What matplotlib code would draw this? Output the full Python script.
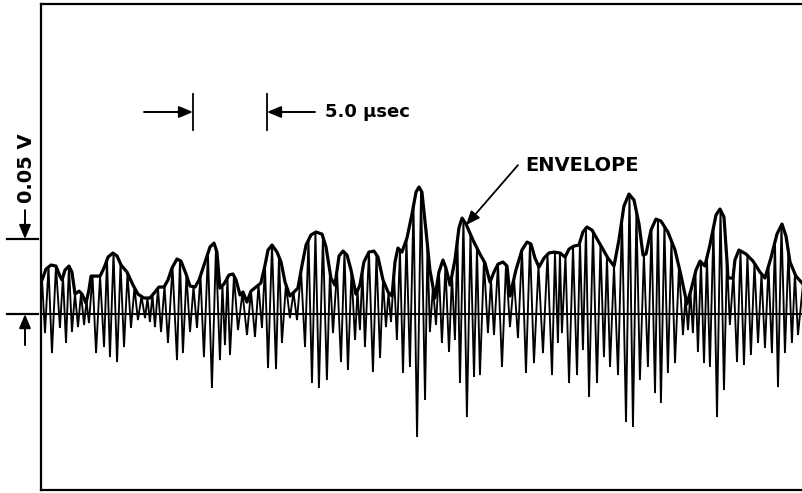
#!/usr/bin/env python3
"""Narrowband noise trace with its envelope, redrawn from a scanned figure."""

import matplotlib

matplotlib.use("Agg")
import matplotlib.pyplot as plt
import matplotlib.transforms as mtransforms
import numpy as np

# envelope of the positive half-cycles: time (usec) and voltage (V)
ENV_T = [
    0.07, 0.34, 0.68, 1.01, 1.28, 1.42, 1.62, 1.89, 2.09, 2.30,
    2.57, 2.77, 3.04, 3.24, 3.38, 3.72, 3.99, 4.26, 4.53, 4.86,
    5.14, 5.41, 5.81, 6.22, 6.55, 6.96, 7.36, 7.70, 7.97, 8.31,
    8.58, 8.85, 9.19, 9.46, 9.80, 10.07, 10.41, 10.68, 11.08, 11.42,
    11.69, 11.89, 12.09, 12.36, 12.70, 12.97, 13.18, 13.45, 13.65, 13.92,
    14.19, 14.53, 14.86, 15.14, 15.34, 15.61, 15.95, 16.22, 16.49, 16.82,
    17.09, 17.36, 17.64, 17.91, 18.24, 18.58, 18.99, 19.26, 19.59, 19.86,
    20.14, 20.41, 20.68, 20.95, 21.28, 21.55, 21.82, 22.16, 22.50, 22.77,
    23.11, 23.45, 23.72, 23.92, 24.12, 24.39, 24.73, 25.07, 25.34, 25.54,
    25.74, 26.01, 26.28, 26.62, 26.89, 27.16, 27.36, 27.64, 27.97, 28.24,
    28.45, 28.72, 29.19, 29.66, 30.00, 30.34, 30.61, 30.88, 31.22, 31.49,
    31.69, 32.09, 32.50, 32.84, 33.11, 33.38, 33.65, 33.99, 34.32, 34.66,
    35.07, 35.41, 35.68, 36.01, 36.35, 36.62, 36.89, 37.23, 37.77, 38.31,
    38.72, 39.05, 39.39, 39.73, 40.07, 40.41, 40.68, 40.88, 41.22, 41.55,
    41.89, 42.36, 42.84, 43.24, 43.65, 43.92, 44.26, 44.53, 44.86, 45.20,
    45.61, 45.88, 46.15, 46.35, 46.42, 46.76, 46.89, 47.16, 47.64, 48.11,
    48.58, 48.92, 49.32, 49.73, 50.07, 50.34, 50.61, 51.01, 51.49,
]
ENV_V = [
    0.0227, 0.0300, 0.0327, 0.0320, 0.0253, 0.0227, 0.0293, 0.0320, 0.0280, 0.0133,
    0.0153, 0.0133, 0.0073, 0.0160, 0.0253, 0.0253, 0.0253, 0.0307, 0.0380, 0.0407,
    0.0387, 0.0327, 0.0280, 0.0193, 0.0133, 0.0107, 0.0107, 0.0147, 0.0180, 0.0180,
    0.0227, 0.0307, 0.0367, 0.0353, 0.0267, 0.0187, 0.0180, 0.0227, 0.0347, 0.0447,
    0.0473, 0.0413, 0.0173, 0.0200, 0.0260, 0.0267, 0.0227, 0.0127, 0.0147, 0.0080,
    0.0153, 0.0180, 0.0207, 0.0327, 0.0427, 0.0460, 0.0413, 0.0347, 0.0213, 0.0120,
    0.0147, 0.0173, 0.0327, 0.0460, 0.0527, 0.0547, 0.0533, 0.0447, 0.0240, 0.0193,
    0.0387, 0.0420, 0.0393, 0.0293, 0.0133, 0.0193, 0.0347, 0.0413, 0.0420, 0.0380,
    0.0227, 0.0147, 0.0120, 0.0347, 0.0440, 0.0413, 0.0507, 0.0667, 0.0813, 0.0847,
    0.0813, 0.0560, 0.0293, 0.0107, 0.0280, 0.0360, 0.0307, 0.0193, 0.0360, 0.0573,
    0.0640, 0.0600, 0.0493, 0.0400, 0.0340, 0.0213, 0.0280, 0.0333, 0.0347, 0.0320,
    0.0120, 0.0293, 0.0427, 0.0480, 0.0467, 0.0373, 0.0313, 0.0373, 0.0407, 0.0413,
    0.0407, 0.0380, 0.0433, 0.0453, 0.0460, 0.0547, 0.0580, 0.0560, 0.0467, 0.0373,
    0.0320, 0.0493, 0.0720, 0.0800, 0.0760, 0.0600, 0.0393, 0.0400, 0.0560, 0.0633,
    0.0620, 0.0547, 0.0427, 0.0260, 0.0067, 0.0160, 0.0293, 0.0353, 0.0320, 0.0460,
    0.0660, 0.0700, 0.0647, 0.0360, 0.0240, 0.0240, 0.0360, 0.0427, 0.0400, 0.0353,
    0.0280, 0.0240, 0.0373, 0.0533, 0.0600, 0.0520, 0.0347, 0.0253, 0.0200,
]

# tips of the negative half-cycles: time (usec) and voltage (V)
TIP_T = [
    0.27, 0.74, 1.28, 1.69, 2.09, 2.50, 2.91, 3.24, 3.72, 4.26,
    4.66, 5.14, 5.61, 6.08, 6.55, 7.03, 7.36, 7.70, 8.11, 8.58,
    9.19, 9.59, 10.07, 10.54, 11.01, 11.55, 12.09, 12.43, 12.77, 13.31,
    13.92, 14.46, 14.93, 15.34, 15.88, 16.28, 16.82, 17.30, 17.84, 18.31,
    18.78, 19.32, 19.73, 20.27, 20.74, 21.22, 21.55, 21.89, 22.43, 22.91,
    23.31, 23.65, 24.05, 24.46, 24.93, 25.41, 25.95, 26.28, 26.69, 27.09,
    27.57, 27.97, 28.31, 28.78, 29.26, 29.66, 30.20, 30.61, 31.15, 31.69,
    32.23, 32.77, 33.31, 33.92, 34.53, 34.93, 35.20, 35.68, 36.22, 36.62,
    37.03, 37.57, 38.04, 38.45, 38.99, 39.53, 40.00, 40.47, 41.01, 41.49,
    41.89, 42.36, 42.84, 43.38, 43.72, 44.05, 44.39, 44.80, 45.20, 45.68,
    46.15, 46.55, 47.03, 47.50, 47.97, 48.45, 48.92, 49.39, 49.80, 50.27,
    50.74, 51.15,
]
TIP_V = [
    -0.0127, -0.0260, -0.0093, -0.0193, -0.0120, -0.0087, -0.0073, -0.0060, -0.0260, -0.0220,
    -0.0287, -0.0320, -0.0220, -0.0093, -0.0040, -0.0027, -0.0053, -0.0087, -0.0120, -0.0193,
    -0.0307, -0.0260, -0.0120, -0.0093, -0.0287, -0.0493, -0.0307, -0.0207, -0.0273, -0.0107,
    -0.0140, -0.0153, -0.0093, -0.0360, -0.0367, -0.0193, -0.0027, -0.0040, -0.0220, -0.0460,
    -0.0493, -0.0440, -0.0127, -0.0320, -0.0373, -0.0173, -0.0107, -0.0220, -0.0387, -0.0293,
    -0.0087, -0.0053, -0.0173, -0.0393, -0.0353, -0.0820, -0.0573, -0.0120, -0.0073, -0.0193,
    -0.0253, -0.0173, -0.0460, -0.0687, -0.0420, -0.0407, -0.0127, -0.0140, -0.0353, -0.0087,
    -0.0160, -0.0393, -0.0327, -0.0260, -0.0407, -0.0193, -0.0127, -0.0460, -0.0407, -0.0240,
    -0.0553, -0.0460, -0.0287, -0.0353, -0.0407, -0.0720, -0.0753, -0.0440, -0.0353, -0.0527,
    -0.0593, -0.0393, -0.0327, -0.0140, -0.0107, -0.0127, -0.0253, -0.0327, -0.0353, -0.0687,
    -0.0507, -0.0073, -0.0320, -0.0340, -0.0273, -0.0193, -0.0227, -0.0260, -0.0487, -0.0260,
    -0.0193, -0.0140,
]

SCALE_T = 5.0  # usec, horizontal calibration bar
SCALE_V = 0.05  # V, vertical calibration bar

FONT = "DejaVu Sans"
ARROW = "-|>,head_length=0.6,head_width=0.25"


def build_trace():
    """Alternate negative tips with positive crests that touch the envelope."""
    tip_t = np.asarray(TIP_T)
    tip_v = np.asarray(TIP_V)
    crest_t = (tip_t[:-1] + tip_t[1:]) / 2
    crest_v = np.interp(crest_t, ENV_T, ENV_V)
    t = np.empty(len(tip_t) + len(crest_t))
    v = np.empty_like(t)
    t[0::2], v[0::2] = tip_t, tip_v
    t[1::2], v[1::2] = crest_t, crest_v
    t = np.concatenate([[ENV_T[0]], t, [ENV_T[-1]]])
    v = np.concatenate([[ENV_V[0]], v, [ENV_V[-1]]])
    return t, v


def main():
    fig = plt.figure(figsize=(8.03, 4.93), dpi=100)
    ax = fig.add_axes([41 / 803, 3 / 493, 762 / 803, 486 / 493])
    ax.set_xlim(0, 51.49)
    ax.set_ylim(-0.1173, 0.2067)
    ax.set_xticks([])
    ax.set_yticks([])
    ax.spines["right"].set_visible(False)
    for side in ("left", "top", "bottom"):
        ax.spines[side].set_linewidth(1.6)

    wave_t, wave_v = build_trace()
    ax.plot(wave_t, wave_v, color="black", lw=1.35, solid_joinstyle="miter")
    ax.plot(ENV_T, ENV_V, color="black", lw=2.3, solid_capstyle="round")
    ax.axhline(0, color="black", lw=1.5)

    text_style = dict(family=FONT, fontweight="bold")

    # 5.0 usec calibration
    t0 = 10.27
    t1 = t0 + SCALE_T
    y_arrow = 0.1347
    for t in (t0, t1):
        ax.plot([t, t], [0.1227, 0.1467], color="black", lw=1.3)
    arrow = dict(arrowstyle=ARROW, color="black", lw=1.4,
                 mutation_scale=14, shrinkA=0, shrinkB=0)
    ax.annotate("", xy=(t0, y_arrow), xytext=(6.96, y_arrow), arrowprops=arrow)
    ax.annotate("", xy=(t1, y_arrow), xytext=(18.51, y_arrow), arrowprops=arrow)
    ax.text(19.19, y_arrow, "5.0 \u00b5sec", ha="left", va="center",
            fontsize=13, **text_style)

    # 0.05 V calibration, drawn in the left margin
    trans = mtransforms.blended_transform_factory(fig.transFigure, ax.transData)
    for v in (0.0, SCALE_V):
        ax.plot([7 / 803, 38 / 803], [v, v], color="black", lw=1.6,
                transform=trans, clip_on=False)
    x_bar = 25 / 803
    ax.annotate("", xy=(x_bar, SCALE_V), xytext=(x_bar, 0.0693),
                xycoords=trans, textcoords=trans, arrowprops=arrow,
                annotation_clip=False)
    ax.annotate("", xy=(x_bar, 0.0), xytext=(x_bar, -0.0207),
                xycoords=trans, textcoords=trans, arrowprops=arrow,
                annotation_clip=False)
    ax.text(27 / 803, 0.0973, "0.05 V", rotation=90, ha="center", va="center",
            fontsize=14, transform=trans, clip_on=False, **text_style)

    # envelope label
    ax.annotate("", xy=(28.72, 0.0593), xytext=(32.23, 0.0993),
                arrowprops=dict(arrow, lw=1.3))
    ax.text(32.70, 0.0993, "ENVELOPE", ha="left", va="center",
            fontsize=14, **text_style)

    fig.savefig("out.png", dpi=100)
    plt.close(fig)


if __name__ == "__main__":
    main()
